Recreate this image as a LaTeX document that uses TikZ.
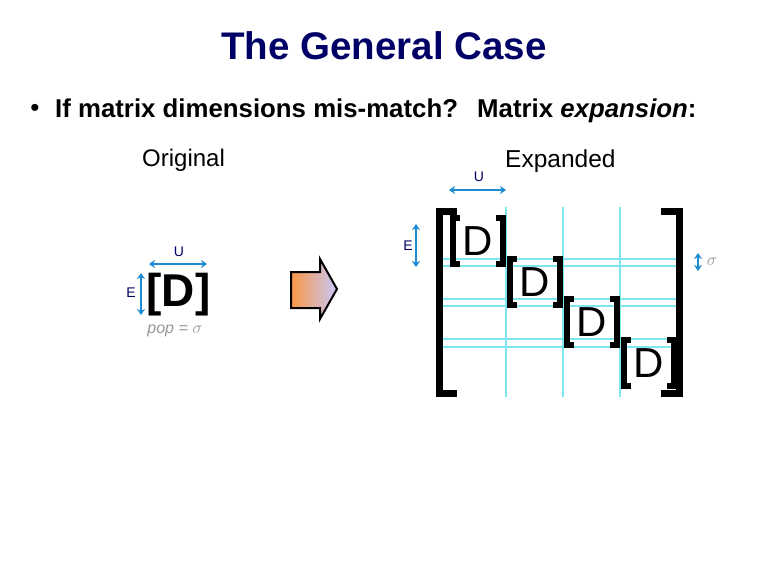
\documentclass[tikz,border=0pt]{standalone}
\usepackage{fontspec}
\setmainfont{Liberation Sans}
\usetikzlibrary{arrows.meta,calc}
\definecolor{navy}{RGB}{0,0,102}
\definecolor{dimblue}{RGB}{30,140,210}
\definecolor{gridcyan}{RGB}{125,230,238}
\definecolor{sgray}{RGB}{150,150,150}
\definecolor{arrorange}{RGB}{250,150,70}
\definecolor{arrlav}{RGB}{200,200,250}
\begin{document}
\begin{tikzpicture}[x=1pt,y=-1pt,
  dimarrow/.style={draw=dimblue, line width=1.8pt, {Stealth[length=6pt,width=8pt]}-{Stealth[length=6pt,width=8pt]}},
  dimlabel/.style={text=navy, font=\fontsize{14}{14}\selectfont, inner sep=0},
  gridline/.style={draw=gridcyan, line width=2pt},
  bigbrk/.style={draw=black, line width=7pt},
  smallbrk/.style={draw=black, line width=6pt},
  dbox/.style={font=\fontsize{42}{42}\selectfont, minimum width=56pt, minimum height=52pt, inner sep=0},
]
\useasboundingbox (0,0) rectangle (768,576);
\fill[white] (0,0) rectangle (768,576);

% title and bullet line
\node[anchor=base, text=navy, font=\bfseries\fontsize{38.5}{38.5}\selectfont, inner sep=0] (title) at (384,59) {The General Case};
\node[anchor=base, font=\fontsize{26}{26}\selectfont, inner sep=0] (bullet) at (35,116) {•};
\node[anchor=base west, font=\bfseries\fontsize{25.8}{25.8}\selectfont, inner sep=0] (q) at (55,117) {If matrix dimensions mis-match?};
\node[anchor=base west, font=\bfseries\fontsize{25.8}{25.8}\selectfont, inner sep=0] (m) at (477,117) {Matrix \textit{expansion}:};

% headings
\node[anchor=base west, font=\fontsize{24}{24}\selectfont, inner sep=0] (orig) at (142,166) {Original};
\node[anchor=base west, font=\fontsize{24.5}{24.5}\selectfont, inner sep=0] (exp) at (505,167) {Expanded};

% original block
\node[font=\bfseries\fontsize{46}{46}\selectfont, inner sep=0] (dl) at (178.5,295) {[D]};
\coordinate (lu1) at (149,264);
\coordinate (lu2) at (207,264);
\draw[dimarrow] (lu1) -- (lu2);
\node[dimlabel] (lul) at (179,252) {U};
\coordinate (le1) at (141,273);
\coordinate (le2) at (141,315);
\draw[dimarrow] (le1) -- (le2);
\node[dimlabel] (lel) at (131,293) {E};
\node[text=sgray, font=\itshape\fontsize{16}{16}\selectfont, inner sep=0] (pop) at (175,331) {pop = $\sigma$};

% block arrow
\draw[line width=2pt, line join=miter, left color=arrorange, right color=arrlav]
  (291,272) -- (320,272) -- (320,259) -- (337,289) -- (320,319) -- (320,308) -- (291,308) -- cycle;

% expanded grid
\foreach \x in {506,563,620} \draw[gridline] (\x,207) -- (\x,397);
\foreach \y in {259,266,299,306,339,347} \draw[gridline] (440,\y) -- (677,\y);

% big brackets
\draw[bigbrk] (457,211.5) -- (439.5,211.5) -- (439.5,393.5) -- (457,393.5);
\draw[bigbrk] (661,211.5) -- (679.5,211.5) -- (679.5,393.5) -- (661,393.5);

% diagonal blocks
\node[dbox] (d1) at (478,241) {D};
\node[dbox] (d2) at (535,282) {D};
\node[dbox] (d3) at (592,322) {D};
\node[dbox] (d4) at (649,363) {D};
\foreach \n in {d1,d2,d3,d4} {
  \draw[smallbrk] ($(\n.north west)+(10,3)$) -- ($(\n.north west)+(3,3)$) -- ($(\n.south west)+(3,-3)$) -- ($(\n.south west)+(10,-3)$);
  \draw[smallbrk] ($(\n.north east)+(-10,3)$) -- ($(\n.north east)+(-3,3)$) -- ($(\n.south east)+(-3,-3)$) -- ($(\n.south east)+(-10,-3)$);
}

% expanded dimensions
\coordinate (eu1) at (449,190);
\coordinate (eu2) at (506,190);
\draw[dimarrow] (eu1) -- (eu2);
\node[dimlabel] (eul) at (479,177) {U};
\coordinate (ee1) at (416,224);
\coordinate (ee2) at (416,267);
\draw[dimarrow] (ee1) -- (ee2);
\node[dimlabel] (eel) at (408,246) {E};
\coordinate (es1) at (698,253);
\coordinate (es2) at (698,271);
\draw[dimarrow] (es1) -- (es2);
\node[text=sgray, font=\fontsize{17}{17}\selectfont, inner sep=0] (esl) at (712,262) {$\sigma$};
\end{tikzpicture}
\end{document}
